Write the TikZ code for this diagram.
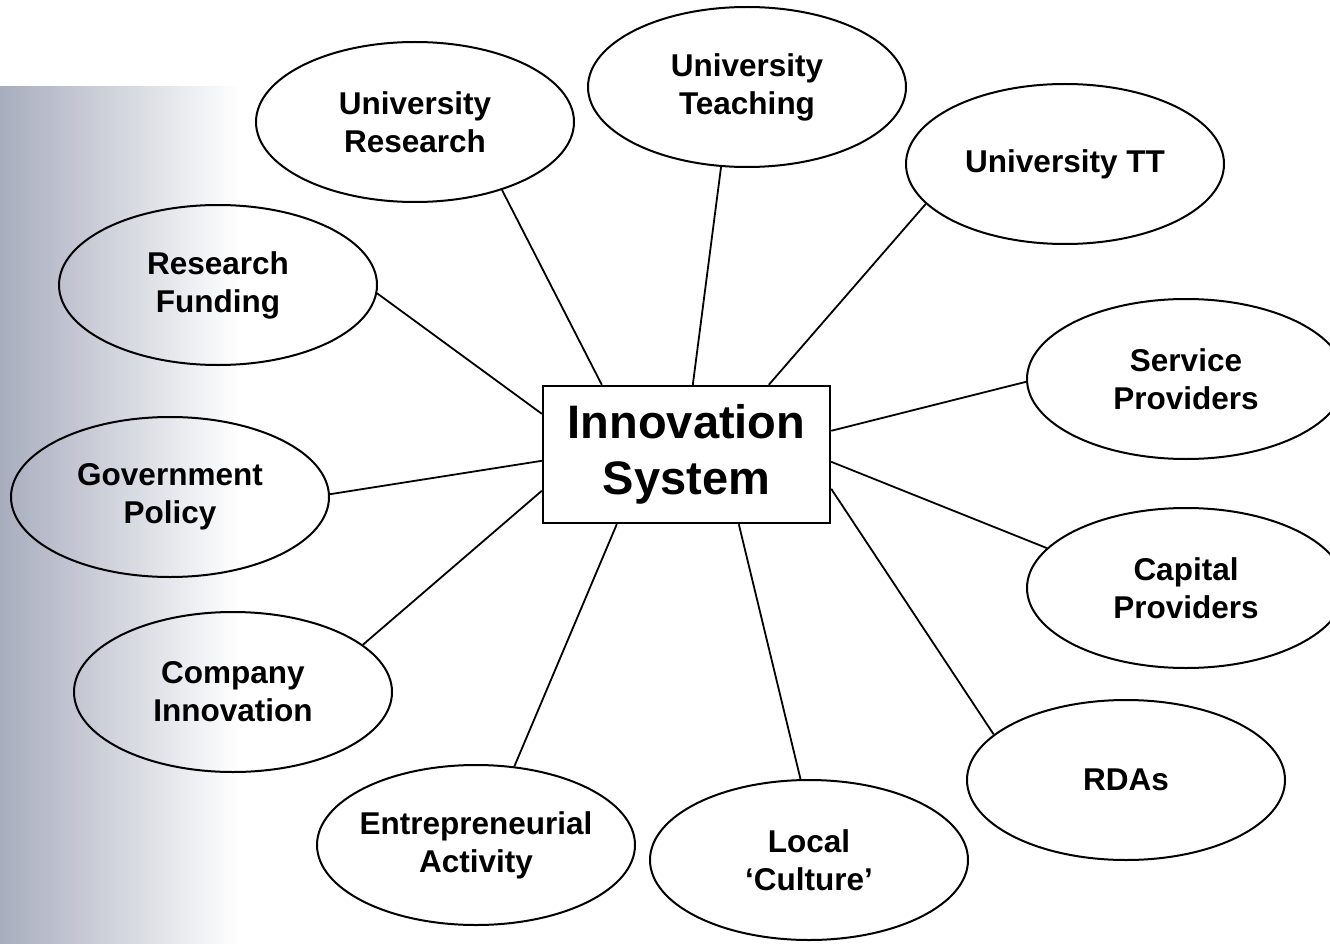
\documentclass[tikz,border=0pt]{standalone}
\usepackage{fontspec}
\setmainfont{Liberation Sans}
\usetikzlibrary{shapes.geometric,calc}
\definecolor{bandgray}{RGB}{168,173,190}
\tikzset{
  ell/.style={ellipse, draw=black, line width=2pt, minimum width=318pt, minimum height=160pt,
    inner xsep=-12pt, inner ysep=0pt, align=center, font=\bfseries\fontsize{31.5}{38}\selectfont},
  hub/.style={rectangle, draw=black, line width=2.4pt, fill=white, minimum width=287pt,
    minimum height=137pt, inner sep=0pt, align=center, font=\bfseries\fontsize{47}{56}\selectfont},
  link/.style={draw=black, line width=1.8pt}
}
\begin{document}
\begin{tikzpicture}[x=1pt,y=-1pt]
\useasboundingbox (0,0) rectangle (1330,944);
\fill[white] (0,0) rectangle (1330,944);
\shade[left color=bandgray, right color=white] (0,87) rectangle (240,944);

\node[hub] (is) at (686.5,454.5) {Innovation\\System};

\node[ell] (ur)  at (415,122)  {University\\Research};
\node[ell] (ut)  at (747,87)   {University\\Teaching};
\node[ell] (utt) at (1065,164) {University TT};
\node[ell] (rf)  at (218,285)  {Research\\Funding};
\node[ell] (sp)  at (1186,379) {Service\\Providers};
\node[ell] (cp)  at (1186,588) {Capital\\Providers};
\node[ell] (gp)  at (170,497)  {Government\\Policy};
\node[ell] (ci)  at (233,692)  {Company\\Innovation};
\node[ell] (ea)  at (476,845)  {Entrepreneurial\\Activity};
\node[ell] (lc)  at (809,860)  {Local\\`Culture'};
\node[ell] (rda) at (1126,780) {RDAs};

\draw[link] (ur.-38.9)  -- ([xshift=60pt]is.north west);
\draw[link] (ut.252.9)  -- ([xshift=151pt]is.north west);
\draw[link] (utt.196)   -- ([xshift=227pt]is.north west);
\draw[link] (sp.181)    -- ([yshift=-46pt]is.north east);
\draw[link] (cp.164.5)  -- ([yshift=-77pt]is.north east);
\draw[link] (rda.161.4) -- ([yshift=-104pt]is.north east);
\draw[link] (lc.96.3)   -- ([xshift=197pt]is.south west);
\draw[link] (ea.64.9)   -- ([xshift=75pt]is.south west);
\draw[link] (ci.20.8)   -- ([yshift=-106pt]is.north west);
\draw[link] (gp.1.8)    -- ([yshift=-76pt]is.north west);
\draw[link] (rf.-3.6)   -- ([yshift=-29pt]is.north west);
\end{tikzpicture}
\end{document}
